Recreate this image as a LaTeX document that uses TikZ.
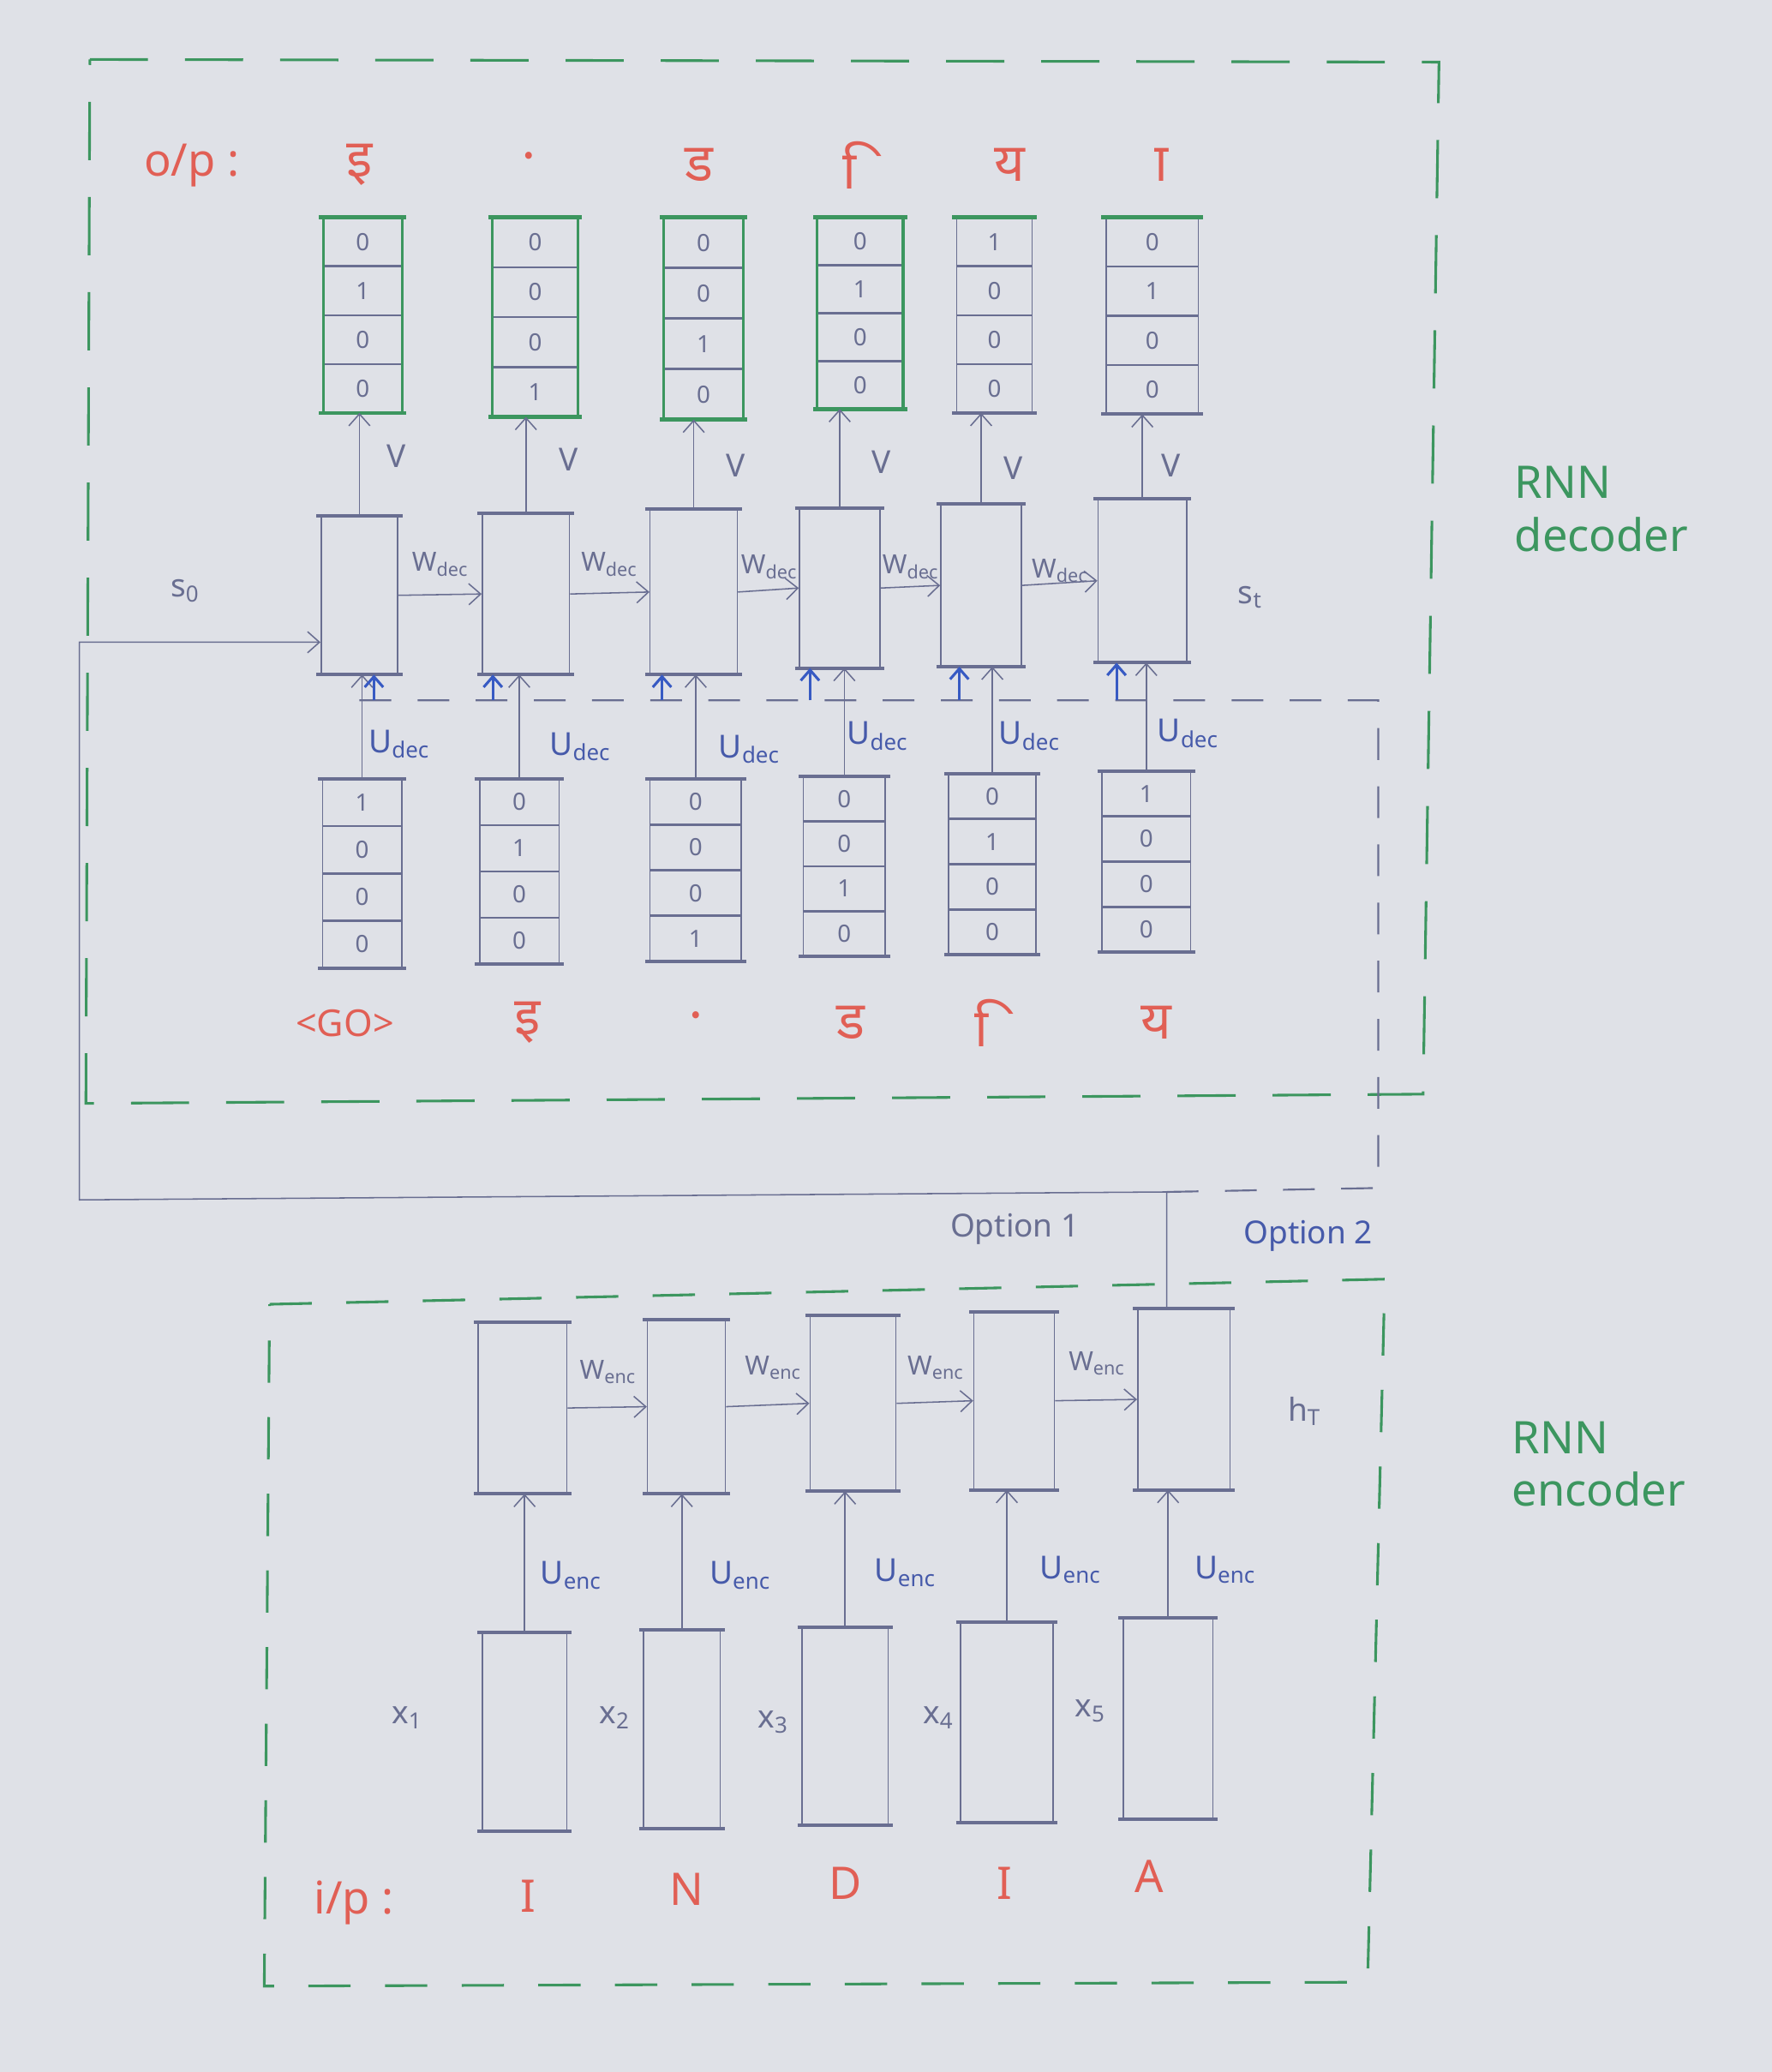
\documentclass[tikz,border=0pt]{standalone}
\usepackage{fontspec}
\setmainfont{Noto Sans}
\newfontfamily\deva[Script=Devanagari]{Noto Sans}
\usetikzlibrary{arrows.meta,calc}
\definecolor{paper}{RGB}{223,225,231}
\definecolor{pen}{RGB}{105,110,145}
\definecolor{inkblue}{RGB}{70,90,170}
\definecolor{brightblue}{RGB}{55,90,195}
\definecolor{leafgreen}{RGB}{60,150,95}
\definecolor{redink}{RGB}{225,95,85}
\tikzset{
  arr/.style={draw=pen, line width=1pt, -{Straight Barb[length=9pt,width=16pt]}},
  arrtwo/.style={draw=brightblue, line width=2pt, -{Straight Barb[length=8pt,width=14pt]}},
  cell/.style={draw=pen, line width=1pt, inner sep=0pt},
  vecbox/.style={draw=pen, line width=1pt, inner sep=0pt},
  sep/.style={draw=pen, line width=1.6pt},
  bar/.style={draw=pen, line width=2.6pt},
  gbar/.style={draw=leafgreen, line width=3pt},
  gline/.style={draw=leafgreen, line width=2pt},
  decframe/.style={draw=leafgreen, line width=2pt, dash pattern=on 44pt off 28pt},
  encframe/.style={draw=leafgreen, line width=2pt, dash pattern=on 32pt off 26pt},
  opttwo/.style={draw=pen, line width=1.4pt, dash pattern=on 24pt off 20pt},
  digit/.style={text=pen, font=\fontsize{18}{18}\selectfont, inner sep=0pt},
  lab/.style={text=pen, font=\fontsize{24}{24}\selectfont, inner sep=1pt},
  wlab/.style={text=pen, font=\fontsize{20}{20}\selectfont, inner sep=0pt},
  blab/.style={text=inkblue, font=\fontsize{24}{24}\selectfont, inner sep=1pt},
  redtxt/.style={text=redink, font=\fontsize{34}{34}\selectfont, inner sep=0pt},
  devtxt/.style={text=redink, font=\deva\fontsize{40}{40}\selectfont, inner sep=0pt},
  dottxt/.style={text=redink, font=\deva\fontsize{46}{46}\selectfont, inner sep=0pt},
  greentxt/.style={text=leafgreen, font=\fontsize{34}{40}\selectfont, align=left, inner sep=0pt},
}
\newcommand\myvec[9]{%
  \node[vecbox,minimum width=#4,minimum height=#5] (#1) at (#2,#3) {};
  \foreach \k in {1,2,3}{\draw[sep] ($(#1.north west)!\k/4!(#1.south west)$) -- ($(#1.north east)!\k/4!(#1.south east)$);}
  \node[digit] (#1a) at ($(#1.north)!0.125!(#1.south)$) {#6};
  \node[digit] (#1b) at ($(#1.north)!0.375!(#1.south)$) {#7};
  \node[digit] (#1c) at ($(#1.north)!0.625!(#1.south)$) {#8};
  \node[digit] (#1d) at ($(#1.north)!0.875!(#1.south)$) {#9};
}
\begin{document}
\begin{tikzpicture}[x=1pt,y=-1pt]
\fill[paper] (0,0) rectangle (1341,1568);
\useasboundingbox (0,0) rectangle (1341,1568);

% frames
\draw[decframe] (68,45) -- (1089,47) -- (1077,828) -- (65,835) -- cycle;
\draw[encframe] (204,987) -- (1048,968) -- (1035,1500) -- (200,1503) -- cycle;

% decoder cells
\node[cell,minimum width=58,minimum height=119] (d1) at (272,450.5) {};
\node[cell,minimum width=66,minimum height=121] (d2) at (398,449.5) {};
\node[cell,minimum width=66,minimum height=124] (d3) at (525,448) {};
\node[cell,minimum width=61,minimum height=120] (d4) at (635.5,445) {};
\node[cell,minimum width=61,minimum height=122] (d5) at (742.5,443) {};
\node[cell,minimum width=67,minimum height=123] (d6) at (864.5,439.5) {};

% output vectors
\myvec{o1}{274.5}{238.5}{59}{147}{0}{1}{0}{0}
\myvec{o2}{405}{240}{64}{150}{0}{0}{0}{1}
\myvec{o3}{532.5}{241}{59}{152}{0}{0}{1}{0}
\myvec{o4}{651}{237}{64}{144}{0}{1}{0}{0}
\myvec{o5}{752.5}{238.5}{57}{147}{1}{0}{0}{0}
\myvec{o6}{872}{239}{70}{148}{0}{1}{0}{0}

% decoder input vectors
\myvec{i1}{274}{661}{60}{142}{1}{0}{0}{0}
\myvec{i2}{393}{659.5}{60}{139}{0}{1}{0}{0}
\myvec{i3}{526.5}{658.5}{69}{137}{0}{0}{0}{1}
\myvec{i4}{639}{655.5}{62}{135}{0}{0}{1}{0}
\myvec{i5}{751}{654}{66}{136}{0}{1}{0}{0}
\myvec{i6}{867.5}{652}{67}{136}{1}{0}{0}{0}

% encoder cells
\node[cell,minimum width=67,minimum height=129] (h1) at (395.5,1065.5) {};
\node[cell,minimum width=59,minimum height=131] (h2) at (519.5,1064.5) {};
\node[cell,minimum width=65,minimum height=132] (h3) at (645.5,1062) {};
\node[cell,minimum width=61,minimum height=134] (h4) at (767.5,1060) {};
\node[cell,minimum width=70,minimum height=136] (h5) at (896,1059) {};

% encoder inputs
\node[cell,minimum width=64,minimum height=149] (x1) at (397,1310.5) {};
\node[cell,minimum width=58,minimum height=149] (x2) at (516,1308.5) {};
\node[cell,minimum width=65,minimum height=149] (x3) at (639.5,1306.5) {};
\node[cell,minimum width=70,minimum height=151] (x4) at (762,1303.5) {};
\node[cell,minimum width=68,minimum height=151] (x5) at (884,1300.5) {};

% thick bars
\foreach \n in {d1,d2,d3,d4,d5,d6,i1,i2,i3,i4,i5,i6,h1,h2,h3,h4,h5,x1,x2,x3,x4,x5}{
  \draw[bar] ([xshift=-3pt]\n.north west) -- ([xshift=3pt]\n.north east);
  \draw[bar] ([xshift=-3pt]\n.south west) -- ([xshift=3pt]\n.south east);
}
\foreach \n in {o1,o2,o3,o4}{
  \draw[gline] (\n.north west) rectangle (\n.south east);
  \draw[gbar] ([xshift=-3pt]\n.north west) -- ([xshift=3pt]\n.north east);
  \draw[gbar] ([xshift=-3pt]\n.south west) -- ([xshift=3pt]\n.south east);
}
\foreach \n in {o5,o6}{
  \draw[gbar] ([xshift=-3pt]\n.north west) -- ([xshift=3pt]\n.north east);
  \draw[bar] ([xshift=-3pt]\n.south west) -- ([xshift=3pt]\n.south east);
}

% V arrows and U_dec arrows
\foreach \k in {1,...,6}{
  \draw[arr] (d\k.north) -- (d\k.north |- o\k.south);
  \draw[arr] (i\k.north) -- (i\k.north |- d\k.south);
}
% W_dec arrows
\foreach \a/\b in {d1/d2,d2/d3,d3/d4,d4/d5,d5/d6}{
  \draw[arr] (\a.east) -- (\b.west);
}
% encoder arrows
\foreach \k in {1,...,5}{
  \draw[arr] (x\k.north) -- (x\k.north |- h\k.south);
}
\foreach \a/\b in {h1/h2,h2/h3,h3/h4,h4/h5}{
  \draw[arr] (\a.east) -- (\b.west);
}

% option 1 (solid) and option 2 (dashed)
\coordinate (j) at (883,902);
\coordinate (b1) at (60,908);
\coordinate (b2) at (60,486);
\draw[arr] (j |- h5.north) -- (j) -- (b1) -- (b2) -- (b2 -| d1.west);
\coordinate (c1) at (1043,899);
\coordinate (c2) at (1043,530);
\coordinate (c3) at (262,530);
\draw[opttwo] (j) -- (c1) -- (c2) -- (c3);
\coordinate (q1) at (283,530);
\coordinate (q2) at (373,530);
\coordinate (q3) at (501,530);
\coordinate (q4) at (613,530);
\coordinate (q5) at (726,530);
\coordinate (q6) at (845,530);
\foreach \k in {1,...,6}{
  \draw[arrtwo] (q\k) -- (q\k |- d\k.south);
}

% labels
\node[redtxt] (op) at (145,125) {o/p :};
\node[devtxt] (t1) at (272,125) {इ};
\node[dottxt] (t2) at (400,134) {\char"00A0 ं};
\node[devtxt] (t3) at (529,125) {ड};
\node[devtxt] (t4) at (648,125) {\char"00A0 ि};
\node[devtxt] (t5) at (764,125) {य};
\node[devtxt] (t6) at (874,125) {\char"00A0 ा};

\node[redtxt,font=\fontsize{28}{28}\selectfont] (g0) at (261,774) {<GO>};
\node[devtxt] (g1) at (399,774) {इ};
\node[dottxt] (g2) at (527,785) {\char"00A0 ं};
\node[devtxt] (g3) at (644,774) {ड};
\node[devtxt] (g4) at (748,774) {\char"00A0 ि};
\node[devtxt] (g5) at (875,774) {य};

\node[redtxt] (ip) at (268,1440) {i/p :};
\node[redtxt] (e1) at (400,1435) {I};
\node[redtxt] (e2) at (520,1430) {N};
\node[redtxt] (e3) at (640,1425) {D};
\node[redtxt] (e4) at (760,1425) {I};
\node[redtxt] (e5) at (870,1420) {A};

\foreach \x/\y [count=\k] in {300/345,430/348,557/352,667/350,767/354,886/352}{
  \node[lab] (v\k) at (\x,\y) {V};
}
\foreach \x/\y [count=\k] in {333/427,461/427,582/429,689/429,802/432}{
  \node[wlab] (wd\k) at (\x,\y) {W\textsubscript{dec}};
}
\foreach \x/\y [count=\k] in {302/563,439/565,567/567,664/557,779/557,899/555}{
  \node[blab] (ud\k) at (\x,\y) {U\textsubscript{dec}};
}
\foreach \x/\y [count=\k] in {460/1038,585/1035,708/1035,830/1032}{
  \node[wlab] (we\k) at (\x,\y) {W\textsubscript{enc}};
}
\foreach \x/\y [count=\k] in {432/1192,560/1192,685/1190,810/1188,927/1188}{
  \node[blab] (ue\k) at (\x,\y) {U\textsubscript{enc}};
}
\foreach \x/\y [count=\k] in {308/1300,465/1300,585/1303,710/1300,825/1295}{
  \node[lab] (xl\k) at (\x,\y) {x\textsubscript{\k}};
}
\node[lab] (sz) at (140,447) {s\textsubscript{0}};
\node[lab] (st) at (946,452) {s\textsubscript{t}};
\node[lab] (ht) at (987,1068) {h\textsubscript{T}};
\node[lab] (op1) at (768,930) {Option 1};
\node[blab] (op2) at (990,935) {Option 2};

\node[greentxt] (rd) at (1212,385) {RNN\\decoder};
\node[greentxt] (re) at (1210,1108) {RNN\\encoder};
\end{tikzpicture}
\end{document}
